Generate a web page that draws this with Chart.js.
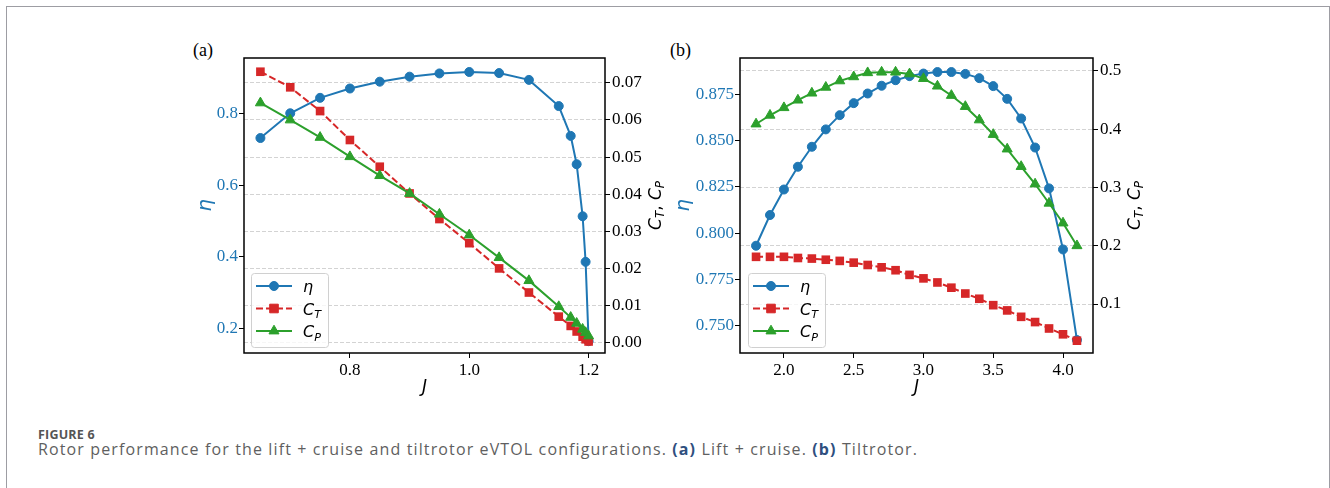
<!DOCTYPE html>
<html><head><meta charset="utf-8">
<script src="https://cdn.jsdelivr.net/npm/chart.js@4/dist/chart.umd.min.js"></script>
<style>
html,body{margin:0;padding:0;width:1330px;height:488px;overflow:hidden;background:#fff;}
#frame{position:absolute;left:6px;top:6px;width:1324px;height:520px;box-sizing:border-box;border:1px solid #9d9da3;border-bottom:none;}
canvas{position:absolute;}
.panel{position:absolute;font-family:"Liberation Serif",serif;font-size:18px;color:#000;line-height:18px;}
#figlabel{position:absolute;left:38px;top:426px;font-family:"Open Sans",sans-serif;font-weight:700;font-size:12.5px;color:#555;letter-spacing:0.2px;}
#caption{position:absolute;left:38px;top:438px;font-family:"Open Sans",sans-serif;font-size:16px;color:#5f5f5f;white-space:nowrap;}
#caption b{color:#2f4f7f;}
</style></head>
<body>
<div id="frame"></div>
<div class="panel" style="left:193px;top:41px;">(a)</div>
<div class="panel" style="left:670px;top:41px;">(b)</div>
<canvas id="ca" width="540" height="400" style="left:150px;top:20px;"></canvas>
<canvas id="cb" width="540" height="400" style="left:640px;top:20px;"></canvas>
<div id="figlabel">FIGURE 6</div>
<div id="caption">Rotor performance for the lift + cruise and tiltrotor eVTOL configurations. <b>(a)</b> Lift + cruise. <b>(b)</b> Tiltrotor.</div>
<script>
// ---------- data: (a) Lift + cruise ----------
const JA   = [0.65,0.70,0.75,0.80,0.85,0.90,0.95,1.00,1.05,1.10,1.15,1.17,1.18,1.19,1.195,1.20];
const etaA = [0.731,0.800,0.843,0.869,0.888,0.902,0.911,0.915,0.912,0.893,0.820,0.737,0.658,0.513,0.386,0.165];
const ctA  = [0.0730,0.0688,0.0624,0.0546,0.0474,0.0402,0.0333,0.0268,0.0200,0.0135,0.0070,0.0045,0.0030,0.0016,0.0009,0.0003];
const cpA  = [0.0646,0.0600,0.0553,0.0501,0.0450,0.0402,0.0346,0.0290,0.0229,0.0167,0.0097,0.0068,0.0052,0.0036,0.0027,0.0018];
const xTicksA   = [0.8,1.0,1.2];
const etaTicksA = [0.2,0.4,0.6,0.8];
const cTicksA   = [0.00,0.01,0.02,0.03,0.04,0.05,0.06,0.07];

// ---------- data: (b) Tiltrotor ----------
const JB   = [1.8,1.9,2.0,2.1,2.2,2.3,2.4,2.5,2.6,2.7,2.8,2.9,3.0,3.1,3.2,3.3,3.4,3.5,3.6,3.7,3.8,3.9,4.0,4.1];
const etaB = [0.7932,0.8098,0.8236,0.8359,0.8467,0.8561,0.8638,0.8703,0.8755,0.8797,0.8827,0.8849,0.8863,0.8871,0.8871,0.8861,0.8838,0.8795,0.8726,0.8620,0.8463,0.8242,0.7912,0.7422];
const ctB  = [0.181,0.181,0.181,0.179,0.178,0.176,0.174,0.171,0.167,0.163,0.158,0.150,0.144,0.137,0.128,0.118,0.109,0.098,0.089,0.078,0.069,0.058,0.048,0.037];
const cpB  = [0.409,0.424,0.437,0.450,0.462,0.472,0.483,0.490,0.497,0.498,0.498,0.495,0.487,0.474,0.458,0.439,0.416,0.391,0.366,0.336,0.306,0.273,0.239,0.200];
const xTicksB   = [2.0,2.5,3.0,3.5,4.0];
const etaTicksB = [0.750,0.775,0.800,0.825,0.850,0.875];
const cTicksB   = [0.1,0.2,0.3,0.4,0.5];

// fit caption width to the reference's line length
(function(){
  const cap=document.getElementById('caption');
  const target=880, w=cap.getBoundingClientRect().width, n=cap.textContent.length;
  cap.style.letterSpacing=((target-w)/n).toFixed(3)+'px';
})();

const BLUE='#1f77b4', RED='#d62728', GREEN='#2ca02c';
const SERIF = "'Liberation Serif', 'Times New Roman', Times, serif";
Chart.defaults.font.family = SERIF;
Chart.defaults.font.size = 17;
const tickFont = () => ({family:SERIF, size:17, style:'normal', weight:'normal', lineHeight:1.2});
const MATHFONT = '"DejaVu Sans", sans-serif';

function pts(xs, ys){ return xs.map((x,i)=>({x:x, y:ys[i]})); }

function drawMarker(ctx, style, x, y, color){
  ctx.save(); ctx.fillStyle=color; ctx.strokeStyle=color; ctx.lineWidth=1; ctx.setLineDash([]);
  ctx.beginPath();
  if(style==='circle'){ ctx.arc(x,y,4.5,0,Math.PI*2); }
  else if(style==='rect'){ ctx.rect(x-4.3,y-4.3,8.6,8.6); }
  else { const r=5.8; ctx.moveTo(x,y-r); ctx.lineTo(x+r*0.866,y+r*0.5); ctx.lineTo(x-r*0.866,y+r*0.5); ctx.closePath(); }
  ctx.fill(); ctx.stroke(); ctx.restore();
}
function mathWidth(ctx, parts, size){
  let w=0;
  for(const [t,sub] of parts){ ctx.font='italic '+(sub?size*0.7:size)+'px '+MATHFONT; if(t===', ') ctx.font=(size)+'px '+MATHFONT; w+=ctx.measureText(t).width; }
  return w;
}
function drawMath(ctx, parts, x, y, size, color){
  ctx.fillStyle=color; ctx.textBaseline='alphabetic'; ctx.textAlign='left';
  let cx=x;
  for(const [t,sub] of parts){
    ctx.font='italic '+(sub?size*0.7:size)+'px '+MATHFONT;
    if(t===', ') ctx.font=size+'px '+MATHFONT;
    ctx.fillText(t, cx, y + (sub? size*0.22 : 0));
    cx += ctx.measureText(t).width;
  }
}

const decorPlugin = {
  id:'decor',
  afterDraw(chart, args, o){
    const {ctx, chartArea:a} = chart;
    ctx.save();
    ctx.strokeStyle='#000'; ctx.lineWidth=1.5; ctx.setLineDash([]);
    ctx.strokeRect(a.left, a.top, a.right-a.left, a.bottom-a.top);
    ctx.save();
    ctx.translate(a.left - o.etaOff, (a.top+a.bottom)/2);
    ctx.rotate(-Math.PI/2);
    ctx.font='italic 20px '+MATHFONT; ctx.fillStyle=BLUE; ctx.textAlign='center'; ctx.textBaseline='middle';
    ctx.fillText('η', 0, 0);
    ctx.restore();
    const cparts=[['C',0],['T',1],[', ',0],['C',0],['P',1]];
    ctx.save();
    ctx.translate(a.right + o.cOff, (a.top+a.bottom)/2);
    ctx.rotate(-Math.PI/2);
    const w=mathWidth(ctx,cparts,17);
    drawMath(ctx, cparts, -w/2, 6, 17, '#000');
    ctx.restore();
    ctx.font='italic 17px '+MATHFONT; ctx.fillStyle='#000'; ctx.textAlign='center'; ctx.textBaseline='middle';
    ctx.fillText('J', (a.left+a.right)/2, a.bottom + o.jOff);
    const lx=a.left+o.legLeft, lw=77, lh=74, ly=a.bottom-6-lh;
    ctx.beginPath();
    if(ctx.roundRect) ctx.roundRect(lx+0.5, ly+0.5, lw, lh, 3); else ctx.rect(lx+0.5,ly+0.5,lw,lh);
    ctx.fillStyle='rgba(255,255,255,0.8)'; ctx.fill();
    ctx.strokeStyle='#d0d0d0'; ctx.lineWidth=1; ctx.stroke();
    const items=[
      {c:BLUE, dash:[], m:'circle', parts:[['η',0]]},
      {c:RED, dash:[7,3], m:'rect', parts:[['C',0],['T',1]]},
      {c:GREEN, dash:[], m:'triangle', parts:[['C',0],['P',1]]}
    ];
    items.forEach((it,i)=>{
      const ry=ly+13+i*22.5;
      ctx.save(); ctx.strokeStyle=it.c; ctx.lineWidth=2; ctx.setLineDash(it.dash);
      ctx.beginPath(); ctx.moveTo(lx+5,ry); ctx.lineTo(lx+41,ry); ctx.stroke(); ctx.restore();
      drawMarker(ctx, it.m, lx+23, ry, it.c);
      drawMath(ctx, it.parts, lx+52, ry+6, 16, '#000');
    });
    ctx.restore();
  }
};

function makeChart(id, J, eta, ct, cp, lim, ticks, dec, layoutW, decor){
  const tickSetter = arr => (s => { s.ticks = arr.map(v=>({value:v})); });
  return new Chart(document.getElementById(id), {
    type:'line',
    data:{ datasets:[
      {label:'η', data:pts(J,eta), yAxisID:'y', borderColor:BLUE, backgroundColor:BLUE, borderWidth:2,
       pointStyle:'circle', pointRadius:4.5, pointBorderWidth:1, pointBackgroundColor:BLUE, pointBorderColor:BLUE, tension:0, order:3},
      {label:'CT', data:pts(J,ct), yAxisID:'y2', borderColor:RED, backgroundColor:RED, borderWidth:2, borderDash:[7,3],
       pointStyle:'rect', pointRadius:6.1, pointBorderWidth:0, pointBackgroundColor:RED, pointBorderColor:RED, tension:0, order:2},
      {label:'CP', data:pts(J,cp), yAxisID:'y2', borderColor:GREEN, backgroundColor:GREEN, borderWidth:2,
       pointStyle:'triangle', pointRadius:5.8, pointBorderWidth:1, pointBackgroundColor:GREEN, pointBorderColor:GREEN, tension:0, order:1}
    ]},
    options:{
      responsive:false, animation:false, devicePixelRatio:1,
      font:{family:SERIF, size:17},
      layout:{padding:{top:38,left:0,right:0,bottom:0}},
      plugins:{legend:{display:false}, tooltip:{enabled:false}, decor:decor},
      scales:{
        x:{type:'linear', position:'bottom', min:lim.x[0], max:lim.x[1],
           afterBuildTicks:tickSetter(ticks.x), afterFit:s=>{s.height=layoutW.b;},
           ticks:{font:tickFont(), color:'#000', maxRotation:0, autoSkip:false, padding:2, callback:v=>v.toFixed(dec.x)},
           grid:{drawOnChartArea:false, drawTicks:true, tickLength:5, tickColor:'#000', tickWidth:1}, border:{display:false}},
        y:{type:'linear', position:'left', min:lim.y[0], max:lim.y[1],
           afterBuildTicks:tickSetter(ticks.y), afterFit:s=>{s.width=layoutW.l;},
           ticks:{font:tickFont(), color:BLUE, autoSkip:false, padding:1, callback:v=>v.toFixed(dec.y)},
           grid:{drawOnChartArea:false, drawTicks:true, tickLength:5, tickColor:'#000', tickWidth:1}, border:{display:false}},
        y2:{type:'linear', position:'right', min:lim.y2[0], max:lim.y2[1],
           afterBuildTicks:tickSetter(ticks.y2), afterFit:s=>{s.width=layoutW.r;},
           ticks:{font:tickFont(), color:'#000', autoSkip:false, padding:2, callback:v=>v.toFixed(dec.y2)},
           grid:{drawOnChartArea:true, color:'#d3d3d3', lineWidth:1, drawTicks:true, tickLength:5, tickColor:'#000', tickWidth:1},
           border:{display:false, dash:[4,2]}}
      }
    },
    plugins:[decorPlugin]
  });
}

makeChart('ca', JA, etaA, ctA, cpA,
  {x:[0.6225,1.2275], y:[0.132,0.954], y2:[-0.0028,0.0767]},
  {x:xTicksA, y:etaTicksA, y2:cTicksA}, {x:1,y:1,y2:2},
  {l:94, r:85, b:67}, {etaOff:38, cOff:49.5, jOff:35, legLeft:7});

makeChart('cb', JB, etaB, ctB, cpB,
  {x:[1.685,4.215], y:[0.7352,0.8947], y2:[0.0159,0.5223]},
  {x:xTicksB, y:etaTicksB, y2:cTicksB}, {x:1,y:3,y2:1},
  {l:100, r:87, b:67}, {etaOff:56, cOff:40.5, jOff:35, legLeft:8});
</script>
</body></html>
